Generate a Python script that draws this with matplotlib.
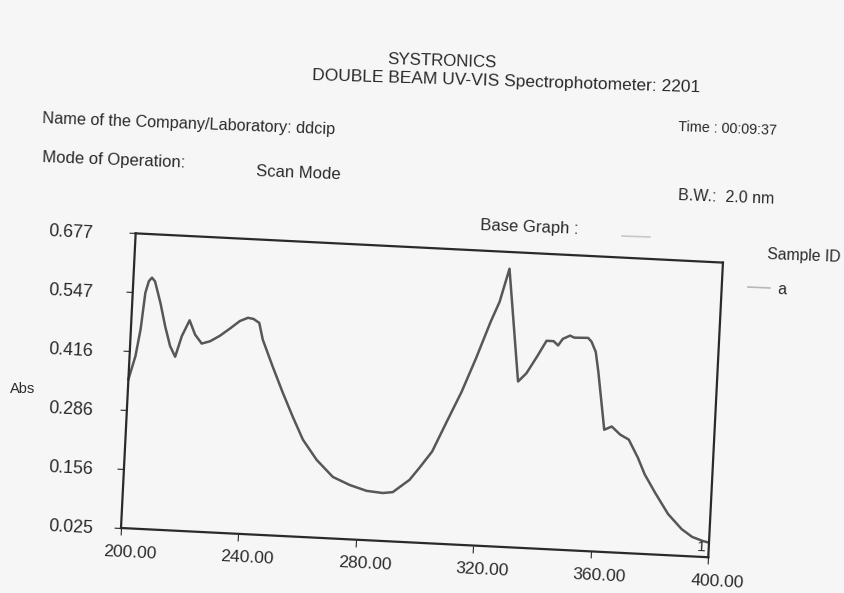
import numpy as np
import matplotlib
matplotlib.use("Agg")
import matplotlib.pyplot as plt
from matplotlib.lines import Line2D
from matplotlib.transforms import Affine2D
from mpl_toolkits.axisartist import floating_axes
from mpl_toolkits.axisartist.grid_finder import FixedLocator, DictFormatter

# ---------------- data ----------------
wavelength = [200.0, 202.0, 203.3, 204.3, 205.3, 206.3, 207.4, 209.6, 211.6, 213.6,
              215.5, 217.4, 219.8, 221.9, 224.3, 227.1, 230.3, 233.6, 236.9, 239.6,
              241.5, 243.5, 245.0, 248.8, 252.7, 256.5, 260.3, 265.3, 271.1, 277.0,
              282.8, 288.3, 291.7, 297.2, 300.4, 304.4, 308.9, 313.4, 317.7, 322.1,
              324.8, 327.6, 332.4, 335.1, 338.6, 341.4, 343.8, 345.4, 346.9, 349.3,
              350.8, 355.5, 356.7, 358.3, 359.5, 362.5, 365.0, 368.0, 371.0, 374.4,
              377.0, 380.8, 385.6, 390.5, 394.2, 398.0, 399.5]
absorbance = [0.354, 0.406, 0.466, 0.547, 0.573, 0.581, 0.573, 0.526, 0.475, 0.432,
              0.409, 0.455, 0.491, 0.460, 0.441, 0.447, 0.460, 0.477, 0.495, 0.503,
              0.501, 0.493, 0.456, 0.398, 0.341, 0.289, 0.240, 0.197, 0.161, 0.145,
              0.134, 0.131, 0.134, 0.163, 0.191, 0.228, 0.296, 0.363, 0.438, 0.521,
              0.566, 0.640, 0.392, 0.411, 0.451, 0.485, 0.485, 0.476, 0.491, 0.499,
              0.495, 0.496, 0.488, 0.466, 0.423, 0.295, 0.303, 0.286, 0.276, 0.237,
              0.201, 0.162, 0.116, 0.084, 0.068, 0.060, 0.058]

x_ticks = [200, 240, 280, 320, 360, 400]
x_tick_labels = ["200.00", "240.00", "280.00", "320.00", "360.00", "400.00"]
y_ticks = [0.025, 0.156, 0.286, 0.416, 0.547, 0.677]
y_tick_labels = ["0.025", "0.156", "0.286", "0.416", "0.547", "0.677"]
x_range = (200, 400)
y_range = (0.025, 0.677)

# ---------------- figure ----------------
W, H = 845, 593
plt.rcParams['font.family'] = ['Liberation Sans', 'DejaVu Sans']
fig = plt.figure(figsize=(W / 100, H / 100), dpi=100)
paper = "#f7f6f7"
ink = "#2a2a2a"
fig.patch.set_facecolor(paper)

# the printout is scanned slightly rotated
theta = 2.85
len_x_px, len_y_px = 588.0, 295.0
origin = np.array([121.0, 528.0])          # bottom-left corner (image px)
sy = (len_y_px / (y_range[1] - y_range[0])) / (len_x_px / (x_range[1] - x_range[0]))
tr = Affine2D().scale(1, sy).rotate_deg(-theta)

gh = floating_axes.GridHelperCurveLinear(
    tr, extremes=(x_range[0], x_range[1], y_range[0], y_range[1]),
    grid_locator1=FixedLocator(x_ticks), grid_locator2=FixedLocator(y_ticks),
    tick_formatter1=DictFormatter(dict(zip(x_ticks, x_tick_labels))),
    tick_formatter2=DictFormatter(dict(zip(y_ticks, y_tick_labels))))

th = np.radians(theta)
vr = np.array([np.cos(th), np.sin(th)]) * len_x_px
vu = np.array([np.sin(th), -np.cos(th)]) * len_y_px
corners = np.array([origin, origin + vr, origin + vu, origin + vr + vu])
x0, y0 = corners.min(axis=0)
x1, y1 = corners.max(axis=0)
cx, cy = (x0 + x1) / 2, (y0 + y1) / 2
bw, bh = (x1 - x0) * 1.02, (y1 - y0) * 1.02
rect = [(cx - bw / 2) / W, 1 - (cy + bh / 2) / H, bw / W, bh / H]

ax = fig.add_axes(rect, axes_class=floating_axes.FloatingAxes, grid_helper=gh)
ax.patch.set_facecolor(paper)

for side in ["left", "right", "top", "bottom"]:
    ax.axis[side].line.set_linewidth(1.6)
    ax.axis[side].line.set_color(ink)
    ax.axis[side].major_ticklabels.set_visible(False)
for side in ["right", "top"]:
    ax.axis[side].major_ticks.set_visible(False)
for side in ["left", "bottom"]:
    ax.axis[side].major_ticks.set_tick_out(True)
    ax.axis[side].major_ticks.set_ticksize(5)
    ax.axis[side].major_ticks.set_color(ink)

aux = ax.get_aux_axes(tr)
aux.plot(wavelength, absorbance, color="#575757", lw=1.8, solid_joinstyle="round")
aux.text(397.6, 0.047, "1", fontsize=11, color=ink, ha="center", va="center",
         rotation=-theta)

fig.canvas.draw()
to_fig = fig.transFigure.inverted()

# y tick labels (printed in a column at a fixed left margin)
for t, lab in zip(y_ticks, y_tick_labels):
    px, py = aux.transData.transform((x_range[0], t))
    fx, fy = to_fig.transform((48, py + 1.5))
    fig.text(fx, fy, lab, fontsize=12.8, color=ink, ha="left", va="center",
             rotation=-theta, rotation_mode="anchor")

# x tick labels (slightly right of each tick, below the axis)
for t, lab in zip(x_ticks, x_tick_labels):
    px, py = aux.transData.transform((t, y_range[0]))
    ox, oy = 10 * np.cos(th) - 24 * np.sin(th), -10 * np.sin(th) - 24 * np.cos(th)
    fx, fy = to_fig.transform((px + ox, py + oy))
    fig.text(fx, fy, lab, fontsize=12.6, color=ink, ha="center", va="center",
             rotation=-theta, rotation_mode="anchor")


# ---------------- header texts ----------------
def ptext(x, y, s, size=12, ha="left", rot=-2.2):
    fig.text(x / W, 1 - y / H, s, fontsize=size, color=ink, ha=ha, va="center",
             rotation=rot, rotation_mode="anchor")


ptext(442, 61, "SYSTRONICS", 12.2, ha="center", rot=-1.8)
ptext(506, 82, "DOUBLE BEAM UV-VIS Spectrophotometer: 2201", 12.5, ha="center", rot=-1.8)
ptext(42, 119, "Name of the Company/Laboratory: ddcip", 11.7)
ptext(678, 127, "Time : 00:09:37", 10.4)
ptext(42, 158, "Mode of Operation:", 12)
ptext(256, 172, "Scan Mode", 12)
ptext(678, 196, "B.W.:  2.0 nm", 11.5)
ptext(480, 226, "Base Graph :", 12)
ptext(767, 255, "Sample ID", 11.3)
ptext(778, 290, "a", 11.5)
ptext(10, 389, "Abs", 10.5, rot=0)

fig.add_artist(Line2D([622 / W, 650 / W], [1 - 236 / H, 1 - 237 / H],
                      color="#c8c8c8", lw=1.2, transform=fig.transFigure))
fig.add_artist(Line2D([748 / W, 770 / W], [1 - 287 / H, 1 - 288 / H],
                      color="#b8b8b8", lw=1.2, transform=fig.transFigure))

fig.savefig("out.png", dpi=100, facecolor=paper)
